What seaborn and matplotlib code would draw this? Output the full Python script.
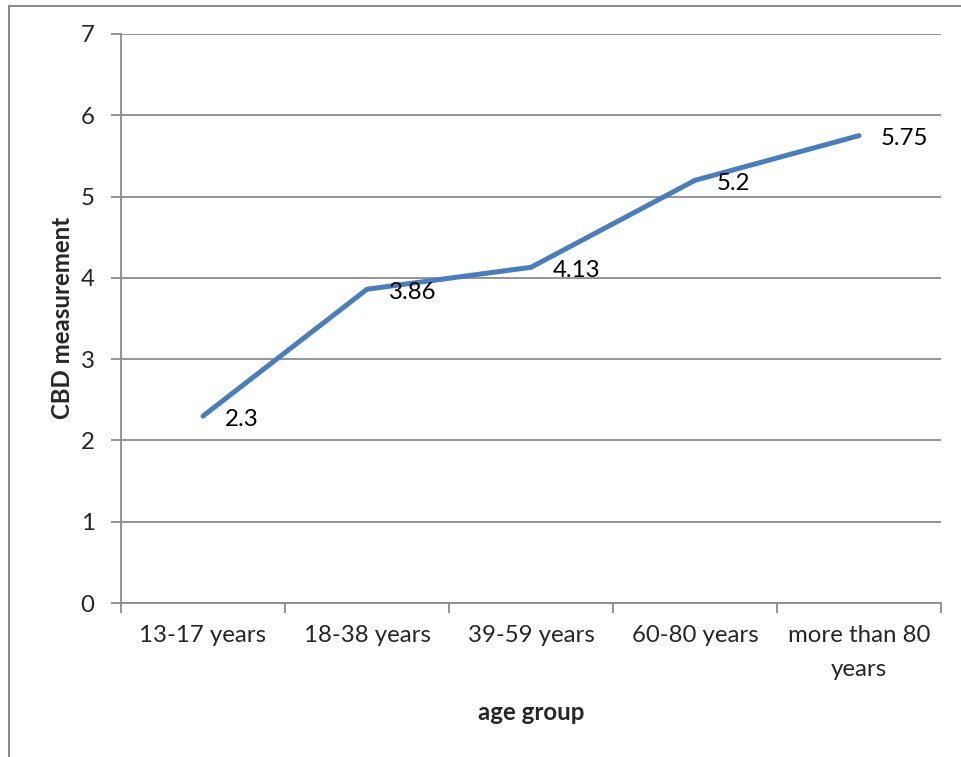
import matplotlib
matplotlib.use("Agg")
import matplotlib.pyplot as plt
from matplotlib.lines import Line2D
import seaborn as sns
import pandas as pd

# Mean CBD measurement per age group
age_groups = ["13-17 years", "18-38 years", "39-59 years", "60-80 years", "more than 80\nyears"]
cbd_values = [2.3, 3.86, 4.13, 5.2, 5.75]
value_labels = ["2.3", "3.86", "4.13", "5.2", "5.75"]
y_ticks = [0, 1, 2, 3, 4, 5, 6, 7]

sns.set_theme(style="white")
plt.rcParams["font.family"] = ["Lato", "DejaVu Sans"]

FS = 17.3
W, H = 961, 757
fig = plt.figure(figsize=(W / 100, H / 100), dpi=100)
ax = fig.add_axes([121 / W, 1 - 603 / H, (941 - 121) / W, (603 - 34) / H])

df = pd.DataFrame({"pos": range(len(age_groups)), "cbd": cbd_values})
sns.lineplot(data=df, x="pos", y="cbd", ax=ax, color="#4A7EBB", linewidth=3.6,
             solid_capstyle="round", solid_joinstyle="round", zorder=3)

for x, y, lab in zip(df["pos"], df["cbd"], value_labels):
    ax.annotate(lab, (x, y), xytext=(22, -3), textcoords="offset pixels",
                ha="left", va="center", fontsize=FS, color="black", zorder=4)

grid_c = "#8C8C8C"
ax.set_xlim(-0.5, len(age_groups) - 0.5)
ax.set_ylim(0, 7)
ax.set_yticks(y_ticks)
ax.set_yticklabels([str(t) for t in y_ticks], fontsize=FS)
ax.set_xticks([i - 0.5 for i in range(len(age_groups) + 1)])
ax.set_xticklabels([])
ax.set_xticks(range(len(age_groups)), minor=True)
ax.set_xticklabels(age_groups, minor=True, fontsize=FS, linespacing=1.75)
ax.tick_params(axis="x", which="major", direction="out", length=7, width=1.3,
               color=grid_c, bottom=True)
ax.tick_params(axis="x", which="minor", length=0, pad=16)
ax.tick_params(axis="y", direction="out", length=7, width=1.3, color=grid_c,
               left=True, pad=12)
ax.yaxis.grid(True, color=grid_c, linewidth=1.3)
ax.xaxis.grid(False)
for side in ["top", "right"]:
    ax.spines[side].set_visible(False)
for side in ["left", "bottom"]:
    ax.spines[side].set_color(grid_c)
    ax.spines[side].set_linewidth(1.3)

ax.set_xlabel("")
ax.set_ylabel("")
fig.text(531 / W, 1 - 713 / H, "age group", ha="center", va="center",
         fontsize=FS, fontweight="bold")
fig.text(62 / W, 1 - 318 / H, "CBD measurement", ha="center", va="center",
         rotation=90, fontsize=FS, fontweight="bold")

# Outer chart frame
fx, fy = 8.5 / W, 1 - 5.5 / H
fig.add_artist(Line2D([fx, fx], [-0.01, fy], transform=fig.transFigure,
                      color="#878787", linewidth=1.4))
fig.add_artist(Line2D([fx, 1.01], [fy, fy], transform=fig.transFigure,
                      color="#878787", linewidth=1.4))

fig.savefig("out.png", dpi=100, facecolor="white")
